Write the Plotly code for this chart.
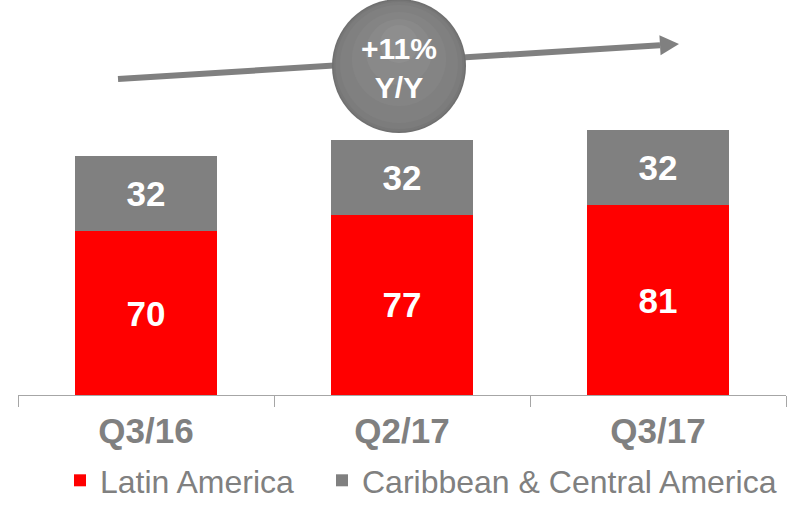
import plotly.graph_objects as go

categories = ["Q3/16", "Q2/17", "Q3/17"]
latin_america = [70, 77, 81]
caribbean_central = [32, 32, 32]
growth_label = "+11%<br>Y/Y"

W, H = 788, 508
ML, MR, MT, MB = 18, 2, 0, 113
PW, PH = W - ML - MR, H - MT - MB
YMAX = 168.6

def px(x):
    return (x - ML) / PW

def py(y):
    return (H - MB - y) / PH

FONT = "Arial, 'Liberation Sans', sans-serif"
RED = "#ff0000"
GRAY = "#808080"

fig = go.Figure()
fig.add_trace(go.Bar(
    x=categories, y=latin_america, name="Latin America",
    marker=dict(color=RED, line=dict(width=0)),
    text=latin_america, textposition="inside", insidetextanchor="middle",
    textfont=dict(family=FONT, size=35, color="white", weight="bold"),
    width=0.555, legend="legend",
))
fig.add_trace(go.Bar(
    x=categories, y=caribbean_central, name="Caribbean & Central America",
    marker=dict(color=GRAY, line=dict(width=0)),
    text=caribbean_central, textposition="inside", insidetextanchor="middle",
    textfont=dict(family=FONT, size=35, color="white", weight="bold"),
    width=0.555, legend="legend2",
))

shapes = []
# trend arrow
x0, y0 = 118, 79
tipx, tipy = 679, 44
bx, by = 660, 45.2
shapes.append(dict(type="line", xref="paper", yref="paper",
                   x0=px(x0), y0=py(y0), x1=px(bx), y1=py(by),
                   line=dict(color=GRAY, width=6), layer="above"))
shapes.append(dict(type="path", xref="paper", yref="paper",
                   path=f"M{px(tipx)},{py(tipy)} L{px(660.6)},{py(55.2)} L{px(659.4)},{py(35.2)} Z",
                   fillcolor=GRAY, line=dict(width=0), layer="above"))
# bubble with soft shading
cx, cy, r = 399, 66, 67
layers = [
    (r, 0, "#707070"),
    (r - 1.5, 0, "#777777"),
    (r - 3.5, -0.5, "#7c7c7c"),
    (r - 8, -2, "#808080"),
    (r - 20, -7, "#848484"),
    (r - 34, -14, "#898989"),
    (r - 48, -22, "#8e8e8e"),
]
for rr, dy, col in layers:
    shapes.append(dict(type="circle", xref="paper", yref="paper",
                       x0=px(cx - rr), x1=px(cx + rr),
                       y0=py(cy + dy + rr), y1=py(cy + dy - rr),
                       fillcolor=col, line=dict(width=0), layer="above"))

legend_common = dict(orientation="h", xref="container", yref="container",
                     xanchor="left", y=-5 / H, yanchor="bottom",
                     font=dict(family=FONT, size=32, color=GRAY),
                     bgcolor="rgba(0,0,0,0)")

fig.update_layout(
    width=W, height=H,
    margin=dict(l=ML, r=MR, t=MT, b=MB, autoexpand=False),
    paper_bgcolor="white", plot_bgcolor="white",
    barmode="stack",
    showlegend=True,
    legend=dict(legend_common, x=60 / W),
    legend2=dict(legend_common, x=322 / W),
    xaxis=dict(
        type="category", range=[-0.5, 2.5], automargin=False,
        showline=True, linecolor="#a6a6a6", linewidth=1,
        ticks="outside", tickson="boundaries", ticklen=11, tickcolor="#a6a6a6",
        ticklabelstandoff=5,
        tickfont=dict(family=FONT, size=35, color=GRAY, weight="bold"),
        showgrid=False,
    ),
    yaxis=dict(range=[0, YMAX], visible=False, showgrid=False, automargin=False),
    shapes=shapes,
    annotations=[dict(
        xref="paper", yref="paper", x=px(cx), y=py(cy + 2),
        text=growth_label, showarrow=False,
        font=dict(family=FONT, size=30, color="white", weight="bold"),
        align="center", xanchor="center", yanchor="middle",
    )],
)

fig.write_html("out.html", config={"displayModeBar": False},
               post_script="document.body.style.margin='0';document.body.style.padding='0';")
